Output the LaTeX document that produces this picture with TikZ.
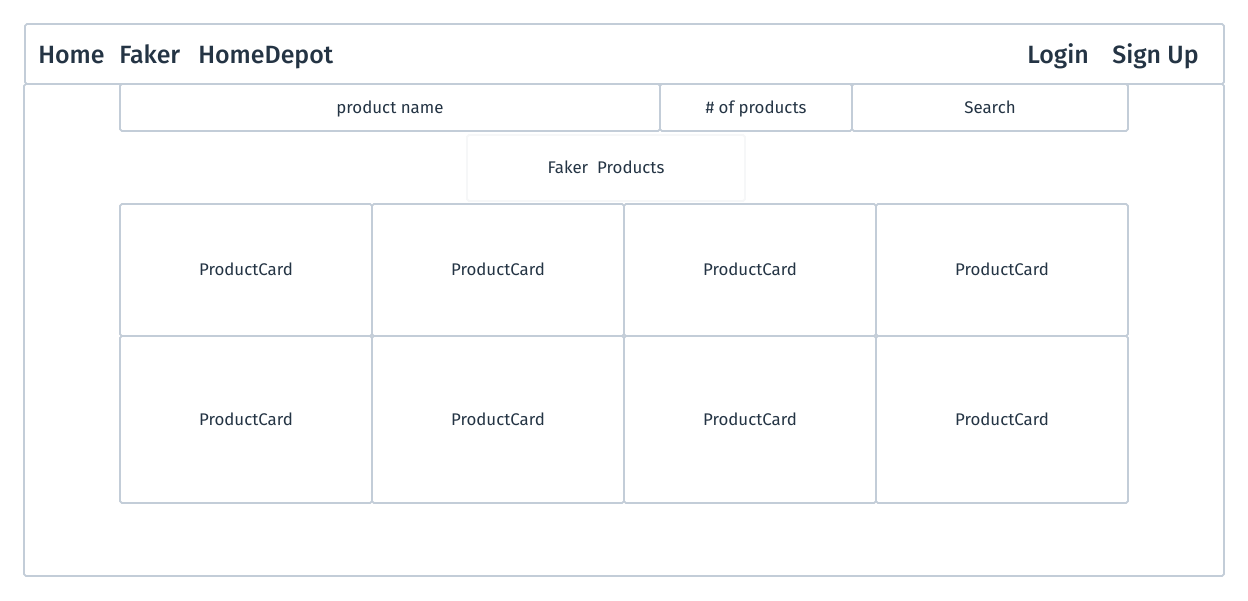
\documentclass[tikz,border=0pt]{standalone}
\usepackage{fontspec}
\setmainfont{Fira Sans}
\newfontfamily\navfont{Fira Sans Medium}
\usetikzlibrary{positioning}
\definecolor{lineclr}{HTML}{C3CDD8}
\definecolor{textclr}{HTML}{243444}
\definecolor{faintclr}{HTML}{F6F7F8}

\begin{document}
\begin{tikzpicture}[x=0.02cm, y=-0.02cm,
box/.style = {rectangle, rounded corners=1pt, draw=lineclr, line width=1pt,
  inner sep=0pt, outer sep=0pt, fill=white, text=textclr,
  text height=1.4ex, text depth=0.2ex,
  font=\fontsize{9.6}{11}\selectfont},
navtext/.style = {text=textclr, inner sep=0pt, anchor=base west,
  font=\navfont\fontsize{14.2}{17}\selectfont},
inputbox/.style = {box, minimum height=0.94cm, minimum width=#1},
card/.style = {box, minimum width=5.04cm, minimum height=#1}]
\useasboundingbox (0,0) rectangle (1248,600);
% page frame
\node[box, minimum width=24cm, minimum height=9.84cm] (body) at (624,330) {};
\node[box, minimum width=23.98cm, minimum height=1.2cm] (navbar) at (624.5,54) {};
% navigation links
\node[navtext] (home) at (38,63) {Home};
\node[navtext] (faker) at (119,63) {Faker};
\node[navtext] (depot) at (198,63) {HomeDepot};
\node[navtext] (login) at (1027,63) {Login};
\node[navtext, anchor=base east] (signup) at (1199,63) {Sign Up};
% search form
\node[inputbox=10.8cm] (pname) at (390,107.5) {product name};
\node[inputbox=3.84cm] (pcount) at (756,107.5) {\# of products};
\node[inputbox=5.52cm] (search) at (990,107.5) {Search};
% title
\node[box, draw=faintclr, minimum width=5.56cm, minimum height=1.32cm] (title) at (606,168) {Faker\ \ Products};
% product cards
\foreach \col [count=\i] in {246,498,750,1002} {
  \node[card=2.64cm] (card-1-\i) at (\col,270) {ProductCard};
  \node[card=3.34cm] (card-2-\i) at (\col,419.5) {ProductCard};
}
\end{tikzpicture}
\end{document}
